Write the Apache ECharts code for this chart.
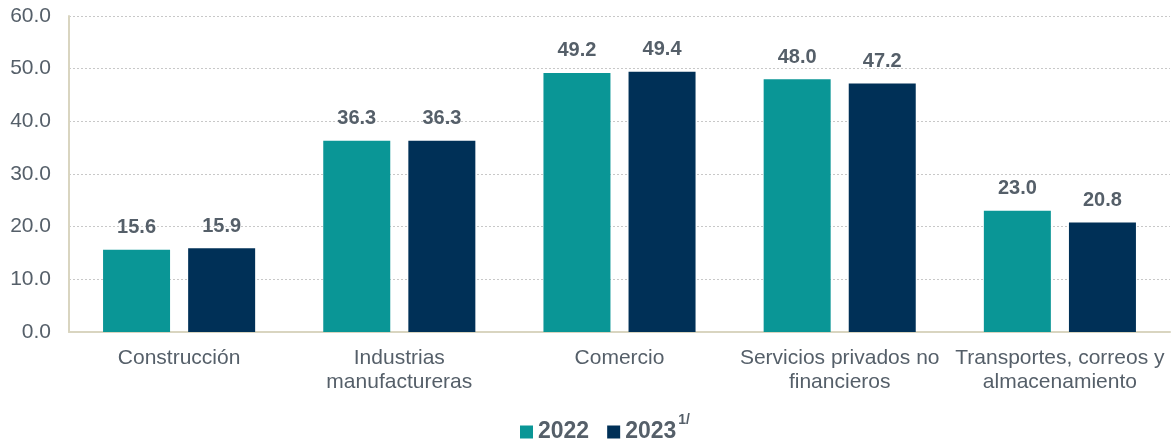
<!DOCTYPE html>
<html>
<head>
<meta charset="utf-8">
<script src="https://cdn.jsdelivr.net/npm/echarts@6/dist/echarts.min.js"></script>
<style>
html,body{margin:0;padding:0;background:#fff;}
#chart{width:1172px;height:443px;}
</style>
</head>
<body>
<div id="chart"></div>
<script>
var categories = ['Construcción', 'Industrias\nmanufactureras', 'Comercio', 'Servicios privados no\nfinancieros', 'Transportes, correos y\nalmacenamiento'];
var values2022 = [15.6, 36.3, 49.2, 48.0, 23.0];
var values2023 = [15.9, 36.3, 49.4, 47.2, 20.8];
var yTicks = [0, 10, 20, 30, 40, 50, 60];

var textColor = '#555f69';
var font = 'Liberation Sans, Arial';
var chart = echarts.init(document.getElementById('chart'));
var labelStyle = {
    show:true,
    position:'top',
    distance:12,
    color:textColor,
    fontFamily:font,
    fontWeight:'bold',
    fontSize:20,
    formatter:function(p){ return p.value.toFixed(1); }
};
var option = {
    animation:false,
    textStyle:{fontFamily:font},
    grid:{left:69, right:2, top:16, bottom:111, containLabel:false},
    legend:{
        top:413,
        left:520,
        padding:0,
        itemWidth:13,
        itemHeight:13,
        itemGap:18,
        icon:'rect',
        data:['2022','2023'],
        formatter:function(name){
            return name === '2023' ? '{b|2023}{s|1/}' : '{b|2022}';
        },
        textStyle:{
            rich:{
                b:{color:textColor, fontWeight:'bold', fontSize:23, fontFamily:font},
                s:{color:textColor, fontWeight:'bold', fontSize:14, fontFamily:font, padding:[0,0,24,2]}
            }
        }
    },
    xAxis:{
        type:'category',
        data:categories,
        axisLine:{lineStyle:{color:'#d9d5c0', width:2}},
        axisTick:{show:false},
        axisLabel:{color:textColor, fontSize:21, lineHeight:24, margin:14, interval:0}
    },
    yAxis:{
        type:'value',
        min:yTicks[0],
        max:yTicks[yTicks.length-1],
        interval:10,
        axisLine:{show:true, lineStyle:{color:'#d9d5c0', width:2}},
        axisTick:{show:false},
        axisLabel:{color:textColor, fontSize:21, margin:18, formatter:function(v){ return v.toFixed(1); }},
        splitLine:{lineStyle:{color:'#c8c8c8', type:[2,2], width:1}}
    },
    series:[{
        name:'2022',
        type:'bar',
        data:values2022,
        barWidth:67,
        barGap:'27%',
        itemStyle:{color:'#0a9696'},
        label:labelStyle
    },{
        name:'2023',
        type:'bar',
        data:values2023,
        barWidth:67,
        itemStyle:{color:'#003057'},
        label:labelStyle
    }]
};
chart.setOption(option);
</script>
</body>
</html>
